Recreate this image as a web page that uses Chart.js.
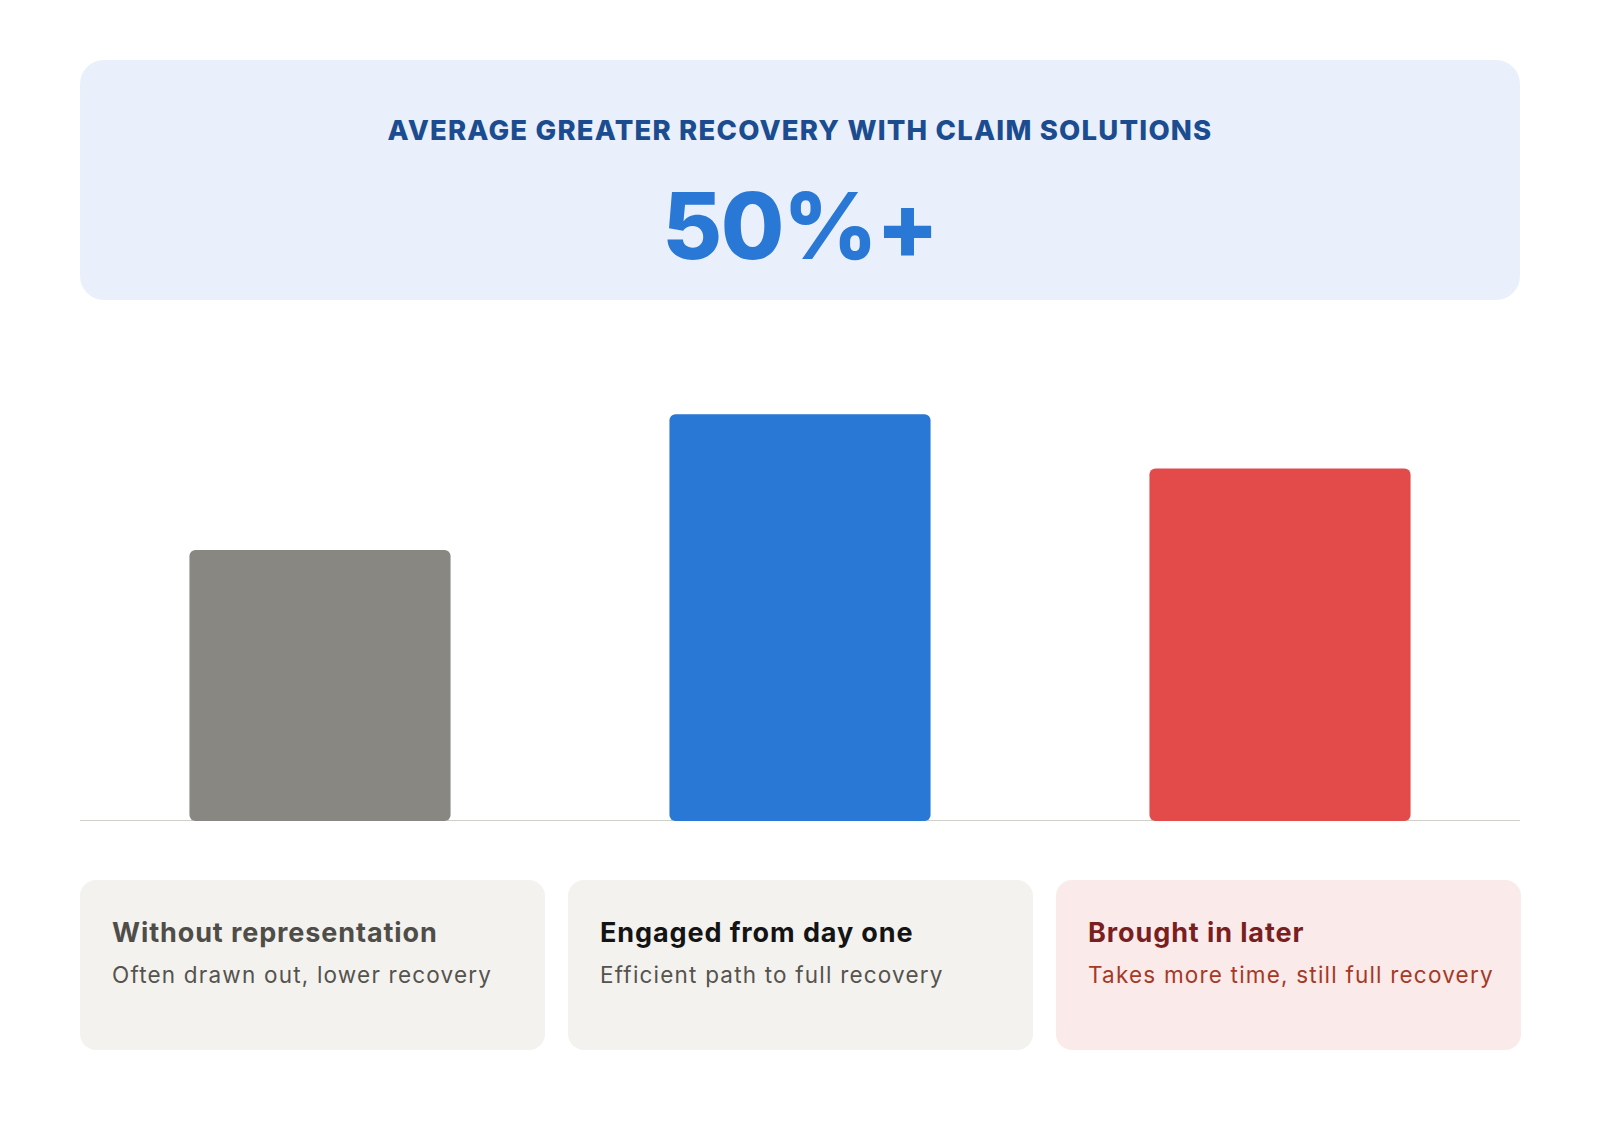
<!DOCTYPE html>
<html>
<head>
<meta charset="utf-8">
<script src="https://cdn.jsdelivr.net/npm/chart.js@4"></script>
<style>
  html, body { margin:0; padding:0; background:#ffffff; }
  body { width:1600px; height:1130px; position:relative; font-family:Inter, "Noto Sans", sans-serif; overflow:hidden; }
  #panel { position:absolute; left:80px; top:60px; width:1440px; height:240px; background:#eaf0fb; border-radius:24px; }
  #title { position:absolute; left:0; right:0; top:54px; text-align:center; font-weight:800; font-size:27.5px; color:#1c4c90; letter-spacing:1.2px; line-height:32px; }
  #big { position:absolute; left:0; right:0; top:116px; text-align:center; font-weight:800; font-size:92px; color:#2a78d6; line-height:100px; letter-spacing:-1.5px; }
  #chartBox { position:absolute; left:80px; top:333px; width:1440px; height:488px; }
  .card { position:absolute; top:880px; width:465px; height:170px; border-radius:16px; box-sizing:border-box; }
  .card .h { position:absolute; left:32px; top:37px; font-weight:700; font-size:27px; line-height:32px; white-space:nowrap; letter-spacing:0.9px; }
  .card .s { position:absolute; left:32px; top:80px; font-weight:400; font-size:22.5px; line-height:30px; white-space:nowrap; letter-spacing:1.2px; }
</style>
</head>
<body>
<div id="panel">
  <div id="title"></div>
  <div id="big"></div>
</div>
<div id="chartBox"><canvas id="c"></canvas></div>
<div id="cards"></div>
<script>
const headline = "AVERAGE GREATER RECOVERY WITH CLAIM SOLUTIONS";
const bigFigure = "50%+";
const categories = ["Without representation", "Engaged from day one", "Brought in later"];
const descriptions = ["Often drawn out, lower recovery", "Efficient path to full recovery", "Takes more time, still full recovery"];
const recoveryValues = [100, 150, 130];
const barColors = ["#888782", "#2a78d6", "#e34b4b"];
const cardBackgrounds = ["#f3f2ef", "#f3f2ef", "#fbeaea"];
const cardTitleColors = ["#4f4d48", "#141414", "#7a1f1f"];
const cardTextColors = ["#55534e", "#55534e", "#a33a27"];

document.getElementById('title').textContent = headline;
document.getElementById('big').textContent = bigFigure;

const cardsEl = document.getElementById('cards');
categories.forEach((cat, i) => {
  const d = document.createElement('div');
  d.className = 'card';
  d.style.left = (80 + i * 488) + 'px';
  d.style.background = cardBackgrounds[i];
  const h = document.createElement('div'); h.className = 'h'; h.textContent = cat; h.style.color = cardTitleColors[i];
  const s = document.createElement('div'); s.className = 's'; s.textContent = descriptions[i]; s.style.color = cardTextColors[i];
  d.appendChild(h); d.appendChild(s);
  cardsEl.appendChild(d);
});

new Chart(document.getElementById('c'), {
  type: 'bar',
  data: {
    labels: categories,
    datasets: [{
      data: recoveryValues,
      backgroundColor: barColors,
      borderRadius: 6,
      borderSkipped: false,
      barPercentage: 0.544,
      categoryPercentage: 1.0
    }]
  },
  options: {
    responsive: true,
    maintainAspectRatio: false,
    animation: false,
    layout: { padding: 0 },
    plugins: { legend: { display: false }, tooltip: { enabled: false } },
    scales: {
      x: {
        display: true,
        grid: { display: false, drawTicks: false },
        ticks: { display: false },
        border: { display: true, color: '#d0d0cb', width: 2 }
      },
      y: { display: false, min: 0, max: 180 }
    }
  }
});
</script>
</body>
</html>
